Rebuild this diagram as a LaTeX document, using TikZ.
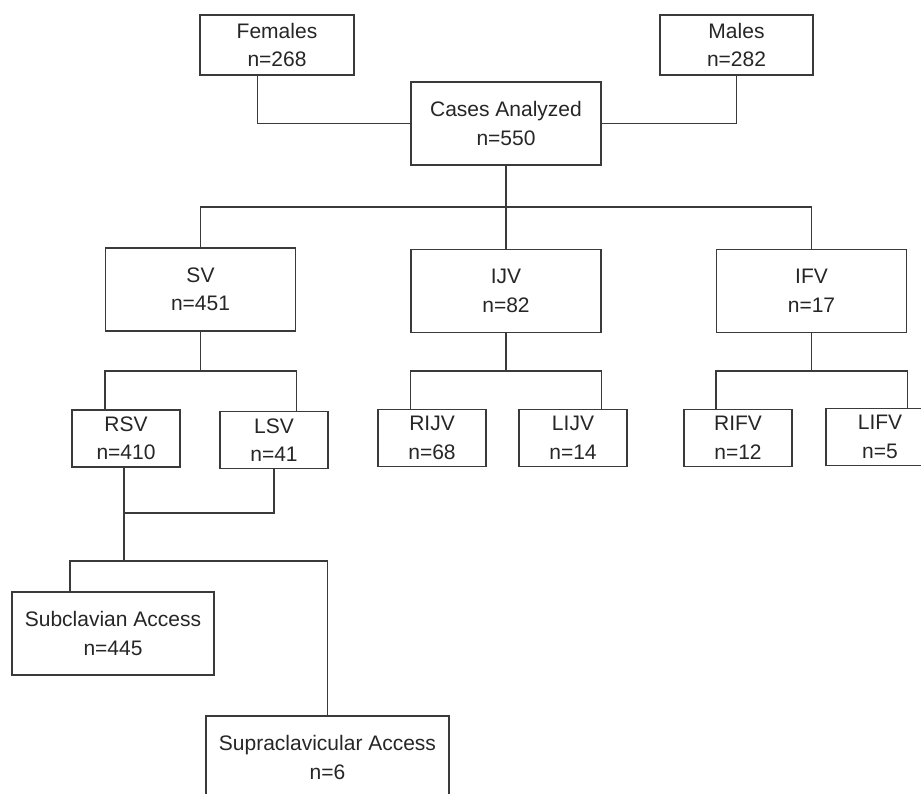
\documentclass[tikz,border=0pt]{standalone}
\usepackage{fontspec}
\setmainfont{Liberation Sans}
\definecolor{boxgrey}{HTML}{3A3A3A}
\begin{document}
\begin{tikzpicture}[x=1pt,y=-1pt,
	box/.style={draw=boxgrey,fill=white,line width=1.4pt,inner sep=0pt,align=center,
		font=\fontsize{21pt}{28.5pt}\selectfont,text=black!85},
	big/.style={box,minimum width=190pt,minimum height=83pt},
	small/.style={box,minimum width=108pt,minimum height=57pt},
	link/.style={draw=boxgrey,line width=1.4pt}]
	\clip (0,0) rectangle (921,793);
	\node[box,minimum width=154pt,minimum height=60pt] (fem) at (277,45) {Females\\n=268};
	\node[box,minimum width=153pt,minimum height=60pt] (male) at (736.5,45) {Males\\n=282};
	\node[big] (cases) at (506,123.5) {Cases Analyzed\\n=550};
	\node[big] (sv) at (200.5,289.5) {SV\\n=451};
	\node[big] (ijv) at (506,291) {IJV\\n=82};
	\node[big] (ifv) at (811.5,291) {IFV\\n=17};
	\node[small] (rsv) at (126,438.5) {RSV\\n=410};
	\node[small] (lsv) at (274,440) {LSV\\n=41};
	\node[small] (rijv) at (432,438) {RIJV\\n=68};
	\node[small] (lijv) at (573,438) {LIJV\\n=14};
	\node[small] (rifv) at (738,438) {RIFV\\n=12};
	\node[small] (lifv) at (880,437) {LIFV\\n=5};
	\node[big,minimum width=202pt] (sub) at (113,633.5) {Subclavian Access\\n=445};
	\node[big,minimum width=243pt] (supra) at (327.5,757.5) {Supraclavicular Access\\n=6};
\coordinate (bus) at (506,207);
\coordinate (svj) at (200.5,371);
\coordinate (ijvj) at (506,371);
\coordinate (ifvj) at (811.5,371);
\coordinate (merge) at (124,513);
\coordinate (split) at (124,561);
\draw[link] ([xshift=-19.5pt]fem.south) |- (cases.west);
\draw[link] (male.south) |- (cases.east);
\draw[link] (cases.south) -- (bus);
\draw[link] (sv.north) |- (bus) -| (ifv.north);
\draw[link] (bus) -- (ijv.north);
\draw[link] (sv.south) -- (svj);
\draw[link] (rsv.north -| sv.west) |- (svj) -| (lsv.north -| sv.east);
\draw[link] (ijv.south) -- (ijvj);
\draw[link] (rijv.north -| ijv.west) |- (ijvj) -| (lijv.north -| ijv.east);
\draw[link] (ifv.south) -- (ifvj);
\draw[link] (rifv.north -| ifv.west) |- (ifvj) -| (lifv.north -| ifv.east);
\draw[link] (rsv.south -| merge) -- (merge) -| (lsv.south);
\draw[link] (merge) -- (split);
\draw[link] ([xshift=-43pt]sub.north) |- (split) -| (supra.north);
\end{tikzpicture}
\end{document}
